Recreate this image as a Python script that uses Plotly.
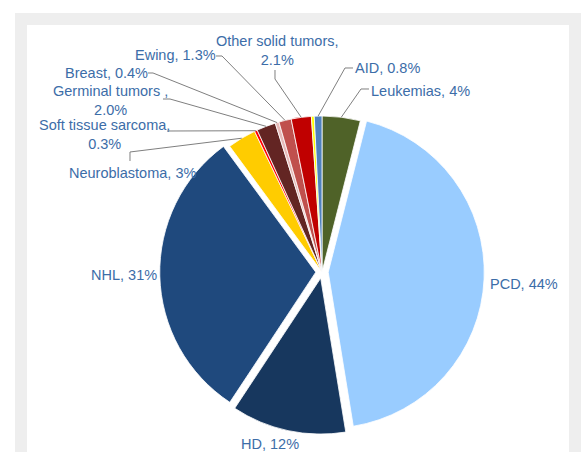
import math
import plotly.graph_objects as go

# ---- data ----
labels = ["Leukemias", "PCD", "HD", "NHL", "Neuroblastoma", "Soft tissue sarcoma",
          "Germinal tumors", "Breast", "Ewing", "Other solid tumors", "Unlabeled", "AID"]
values = [4, 44, 12, 31, 3, 0.3, 2.0, 0.4, 1.3, 2.1, 0.3, 0.8]
label_texts = ["Leukemias, 4%", "PCD, 44%", "HD, 12%", "NHL, 31%", "Neuroblastoma, 3%",
               "Soft tissue sarcoma,<br>0.3%", "Germinal tumors ,<br>2.0%", "Breast, 0.4%",
               "Ewing, 1.3%", "Other solid tumors,<br>2.1%", "", "AID, 0.8%"]
colors = ["#4F6228", "#99CCFF", "#17375E", "#1F497D", "#FFCC00", "#FF0000",
          "#632523", "#E6B9B8", "#C0504D", "#C00000", "#FFFF00", "#4F81BD"]
pulls = [0, 0.04, 0.04, 0.04, 0, 0, 0, 0, 0, 0, 0, 0]

# ---- layout constants (pixels) ----
W, H = 581, 452
dom_x = [159.76 / W, 484.24 / W]
dom_y = [1 - 434.24 / H, 1 - 109.76 / H]

# label text centres (px) and leader-line label-side points (px)
label_pos = {
    "Leukemias": (420, 91), "PCD": (524, 284), "HD": (270, 444), "NHL": (124, 275),
    "Neuroblastoma": (132, 173), "Soft tissue sarcoma": (104, 134),
    "Germinal tumors": (110, 101), "Breast": (106, 73), "Ewing": (175, 55),
    "Other solid tumors": (277, 50), "AID": (388, 68),
}
leader_pts = {
    "Leukemias": [(369, 89), (361, 89)],
    "AID": [(353, 68), (345, 68)],
    "Other solid tumors": [(275, 70), (275, 79)],
    "Ewing": [(216, 56), (222, 56)],
    "Breast": [(148, 73), (153, 73)],
    "Germinal tumors": [(163, 99), (170, 99)],
    "Soft tissue sarcoma": [(167, 131), (172, 131)],
    "Neuroblastoma": [(130, 161), (130, 152)],
}

TEXT_COLOR = "#3C6DA8"
FONT = "Liberation Sans, Arial, sans-serif"

fig = go.Figure(go.Pie(
    labels=labels, values=values, sort=False, direction="clockwise", rotation=0,
    marker=dict(colors=colors, line=dict(color="white", width=0.8)),
    pull=pulls, textinfo="none", hoverinfo="label+percent",
    domain=dict(x=dom_x, y=dom_y), showlegend=False,
))

# pie geometry, same rule plotly uses
box_w = W * (dom_x[1] - dom_x[0])
box_h = H * (dom_y[1] - dom_y[0])
r = min(box_w, box_h) / 2 / (1 + max(pulls))
cx = W * (dom_x[0] + dom_x[1]) / 2
cy = H * (1 - (dom_y[0] + dom_y[1]) / 2)
total = sum(values)

def px2paper(p):
    return p[0] / W, 1 - p[1] / H

shapes = [
    dict(type="rect", xref="paper", yref="paper", x0=15 / W, x1=1, y0=0, y1=1 - 13 / H,
         fillcolor="#EEEEEE", line=dict(width=0), layer="below"),
    dict(type="rect", xref="paper", yref="paper", x0=27 / W, x1=569 / W, y0=0, y1=1 - 25 / H,
         fillcolor="white", line=dict(width=0), layer="below"),
]

cum = 0
for lab, v in zip(labels, values):
    theta = 2 * math.pi * (cum + v / 2) / total
    cum += v
    if lab in leader_pts:
        anchor = (cx + r * math.sin(theta), cy - r * math.cos(theta))
        pts = [px2paper(p) for p in leader_pts[lab] + [anchor]]
        path = "M " + " L ".join(f"{x:.5f},{y:.5f}" for x, y in pts)
        shapes.append(dict(type="path", xref="paper", yref="paper", path=path,
                           line=dict(color="#7F7F7F", width=1), layer="above"))

annotations = []
for lab, txt in zip(labels, label_texts):
    if lab in label_pos and txt:
        x, y = px2paper(label_pos[lab])
        annotations.append(dict(x=x, y=y, xref="paper", yref="paper", text=txt,
                                showarrow=False, xanchor="center", yanchor="middle",
                                align="center",
                                font=dict(family=FONT, size=14.5, color=TEXT_COLOR)))

fig.update_layout(
    width=W, height=H, margin=dict(l=0, r=0, t=0, b=0),
    paper_bgcolor="white", plot_bgcolor="white",
    shapes=shapes, annotations=annotations,
)

fig.write_html(
    "out.html",
    config={"displayModeBar": False},
    post_script="document.body.style.margin='0px';document.body.style.overflow='hidden';",
)
